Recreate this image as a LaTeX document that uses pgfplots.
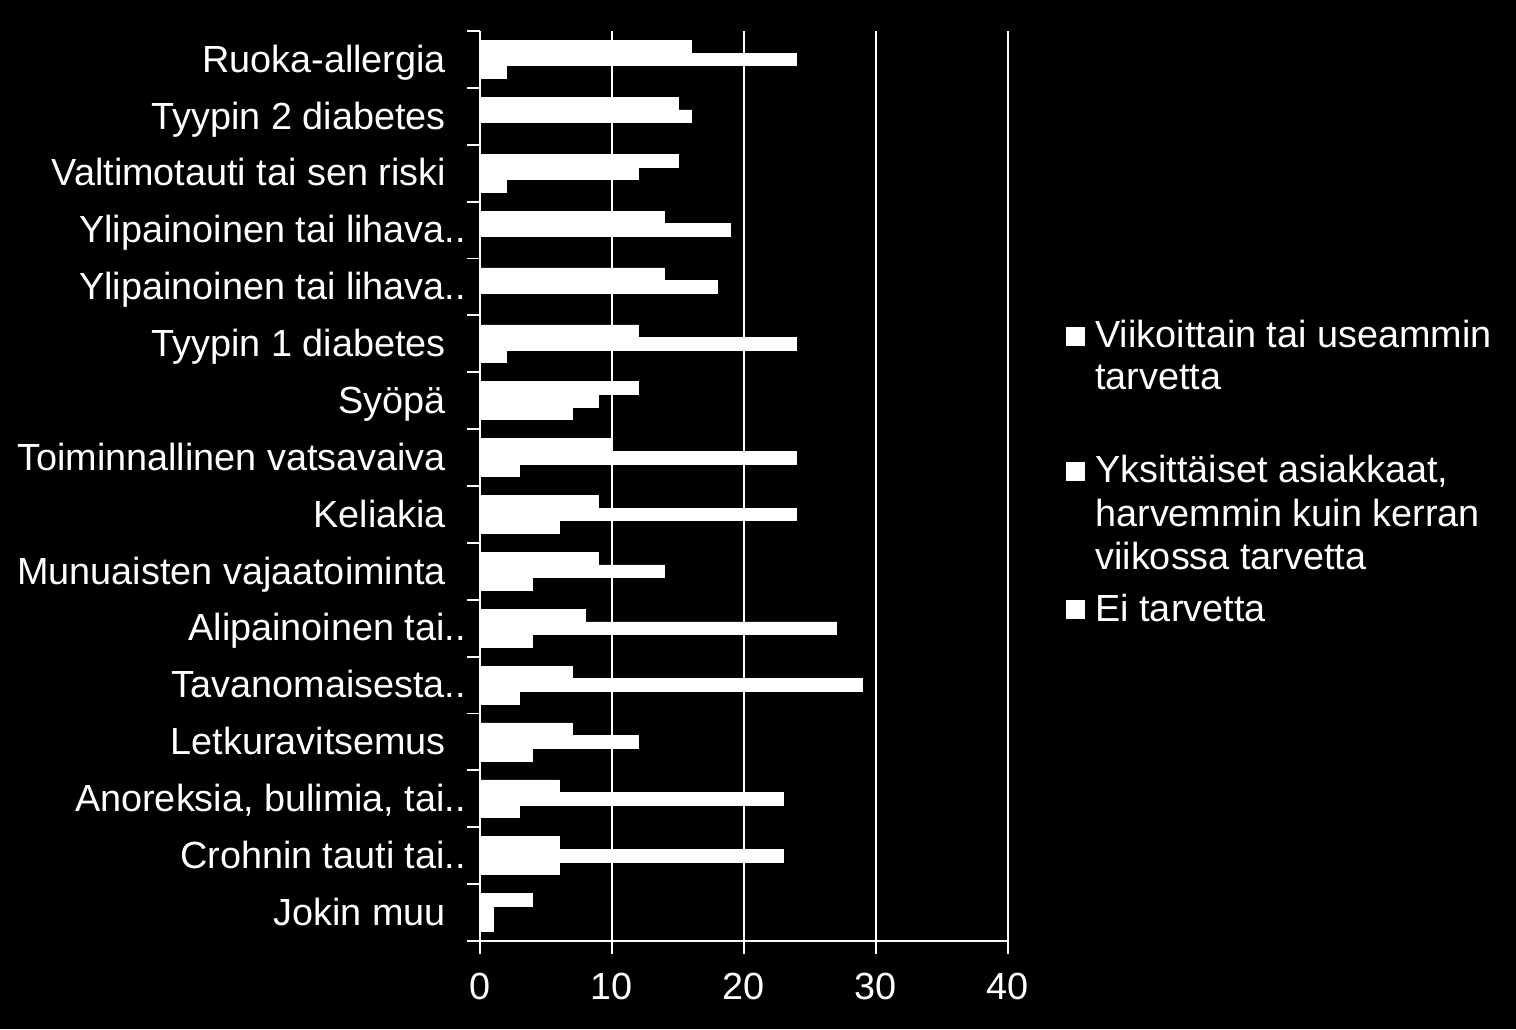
\documentclass[border=0pt]{standalone}
\usepackage{pgfplots}
\pgfplotsset{compat=1.18}
\usepackage{pgfplotstable}
\usepackage{fontspec}
\setmainfont{Liberation Sans}

% y: category position (15 = top), v: Viikoittain, k: Yksittäiset, e: Ei tarvetta
\pgfplotstableread{
y v k e
15 16 24 2
14 15 16 0
13 15 12 2
12 14 19 0
11 14 18 0
10 12 24 2
9 12 9 7
8 10 24 3
7 9 24 6
6 9 14 4
5 8 27 4
4 7 29 3
3 7 12 4
2 6 23 3
1 6 23 6
0 4 1 1
}\data

\newcommand{\tsp}{\hspace*{10pt}}

\begin{document}
\begin{tikzpicture}
\fill[black] (0,0) rectangle (758pt,514.5pt);
\path[use as bounding box] (0,0) rectangle (758pt,514.5pt);
\begin{axis}[
  at={(240pt,44pt)}, anchor=south west,
  scale only axis, width=264pt, height=455pt,
  xmin=0, xmax=40, ymin=-0.5, ymax=15.5,
  xbar, bar width=0.222,
  axis x line*=bottom, axis y line*=left,
  axis line style={white, line width=0.8pt},
  xtick={0,10,20,30,40},
  ytick={0,...,15},
  yticklabels={Jokin muu\tsp, Crohnin tauti tai.., {Anoreksia, bulimia, tai..}, Letkuravitsemus\tsp, Tavanomaisesta.., Alipainoinen tai.., Munuaisten vajaatoiminta\tsp, Keliakia\tsp, Toiminnallinen vatsavaiva\tsp, Syöpä\tsp, Tyypin 1 diabetes\tsp, Ylipainoinen tai lihava.., Ylipainoinen tai lihava.., Valtimotauti tai sen riski\tsp, Tyypin 2 diabetes\tsp, Ruoka-allergia\tsp},
  extra y ticks={-0.5,0.5,...,15.5},
  extra y tick labels={},
  extra y tick style={ytick style={draw=white, line width=0.9pt}},
  tick align=outside,
  major tick length=6.5pt,
  ytick style={draw=none},
  xtick style={white, line width=0.8pt},
  xmajorgrids,
  grid style={white, line width=0.75pt},
  /pgf/number format/assume math mode=true,
  ticklabel style={white, font=\fontsize{18.9}{22}\selectfont},
  yticklabel style={anchor=base east, yshift=-6.4pt, xshift=3pt},
  xticklabel style={anchor=north, yshift=-6pt},
]
\addplot[fill=white, draw=white, line width=0.3pt, bar shift=0.222] table[x=v, y=y] {\data};
\addplot[fill=white, draw=white, line width=0.3pt, bar shift=0] table[x=k, y=y] {\data};
\addplot[fill=white, draw=white, line width=0.3pt, bar shift=-0.222] table[x=e, y=y] {\data};
\end{axis}
% legend
\begin{scope}[every node/.style={text=white, font=\fontsize{18.9}{22}\selectfont, anchor=base west, inner sep=0pt}]
\fill[white] (533pt,341.25pt) rectangle (542.5pt,350.75pt);
\node at (547.5pt,340.5pt) {Viikoittain tai useammin};
\node at (547.5pt,319.5pt) {tarvetta};
\fill[white] (533pt,273.75pt) rectangle (542.5pt,283.25pt);
\node at (547.5pt,273pt) {Yksittäiset asiakkaat,};
\node at (547.5pt,251pt) {harvemmin kuin kerran};
\node at (547.5pt,229.5pt) {viikossa tarvetta};
\fill[white] (533pt,204.75pt) rectangle (542.5pt,214.25pt);
\node at (547.5pt,203.5pt) {Ei tarvetta};
\end{scope}
\end{tikzpicture}
\end{document}
